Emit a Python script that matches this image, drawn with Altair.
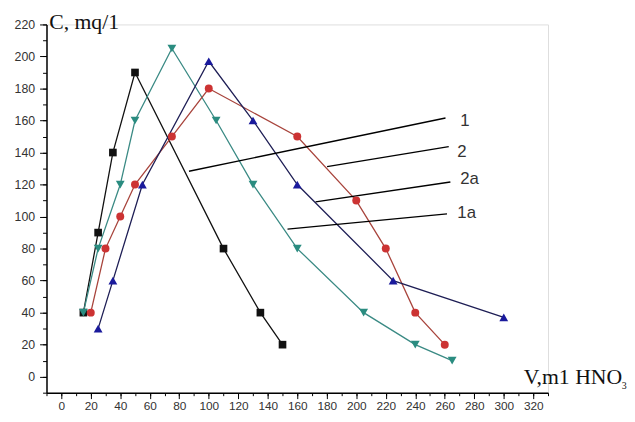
import altair as alt
import pandas as pd

# Curve 1 (black squares)
x1 = [15, 25, 35, 50, 110, 135, 150]
y1 = [40, 90, 140, 190, 80, 40, 20]
# Curve 1a (teal down-triangles)
x1a = [15, 25, 40, 50, 75, 105, 130, 160, 205, 240, 265]
y1a = [40, 80, 120, 160, 205, 160, 120, 80, 40, 20, 10]
# Curve 2 (red circles)
x2 = [20, 30, 40, 50, 75, 100, 160, 200, 220, 240, 260]
y2 = [40, 80, 100, 120, 150, 180, 150, 110, 80, 40, 20]
# Curve 2a (blue up-triangles)
x2a = [25, 35, 55, 100, 130, 160, 225, 300]
y2a = [30, 60, 120, 197, 160, 120, 60, 37]

series_names = ["1", "1a", "2", "2a"]
series_x = [x1, x1a, x2, x2a]
series_y = [y1, y1a, y2, y2a]
marker_colors = ["#111111", "#2a8c80", "#cc3333", "#1a1a9c"]
line_colors = ["#111111", "#3a8a84", "#a8443c", "#1e1e55"]
shapes = ["square", "triangle-down", "circle", "triangle-up"]
sizes = [60, 80, 65, 80]

# Leader lines (data coords) and labels
leader_names = ["1", "2", "2a", "1a"]
leader_x = [86.6, 180.2, 172.4, 153.4]
leader_y = [128.3, 131.2, 109.2, 92.2]
leader_x2 = [260.5, 262.7, 263.8, 261.5]
leader_y2 = [161.6, 143.7, 121.6, 101.7]
label_x = [270.5, 268.5, 270.5, 268.5]
label_y = [159.6, 140.0, 123.7, 102.1]

# tick positions
major_x = list(range(0, 321, 20))
minor_x = list(range(-10, 331, 10))
major_y = list(range(0, 221, 20))
minor_y = list(range(-10, 221, 10))

rows = []
for name, xs, ys, mc, lc, sh, sz in zip(series_names, series_x, series_y,
                                         marker_colors, line_colors, shapes, sizes):
    for i, (xv, yv) in enumerate(zip(xs, ys)):
        rows.append({"s": name, "x": xv, "y": yv, "mc": mc, "lc": lc,
                     "shape": sh, "size": sz, "o": i})
df = pd.DataFrame(rows)

lead = pd.DataFrame({"name": leader_names, "x": leader_x, "y": leader_y,
                     "x2": leader_x2, "y2": leader_y2,
                     "lx": label_x, "ly": label_y})

xscale = alt.Scale(domain=[-10, 330], nice=False, zero=False)
yscale = alt.Scale(domain=[-10, 220], nice=False, zero=False)

lab = dict(labelFont="Liberation Sans", labelColor="#333333",
           labelFlush=False, labelOverlap=False)
xaxis = alt.Axis(values=major_x, title=None, grid=False, orient="bottom",
                 domainColor="black", domainWidth=1.5, labelFontSize=12,
                 tickColor="black", tickWidth=1, tickSize=6, labelPadding=2, **lab)
yaxis = alt.Axis(values=major_y, title=None, grid=False, orient="left",
                 domainColor="black", domainWidth=1.5, labelFontSize=12.5,
                 tickColor="black", tickWidth=1, tickSize=7, labelPadding=5, **lab)
xminor = alt.Axis(values=minor_x, title=None, grid=False, orient="bottom",
                  domain=False, labels=False, tickColor="black", tickWidth=1, tickSize=3)
yminor = alt.Axis(values=minor_y, title=None, grid=False, orient="left",
                  domain=False, labels=False, tickColor="black", tickWidth=1, tickSize=4)

X = lambda f: alt.X(f, scale=xscale, axis=xaxis)
Y = lambda f: alt.Y(f, scale=yscale, axis=yaxis)

base = alt.Chart(df)
lines = base.mark_line(strokeWidth=1.3).encode(
    x=X("x:Q"), y=Y("y:Q"),
    detail="s:N",
    order="o:Q",
    color=alt.Color("lc:N", scale=None),
)
points = base.mark_point(filled=True, opacity=1).encode(
    x=X("x:Q"), y=Y("y:Q"),
    fill=alt.Fill("mc:N", scale=None),
    shape=alt.Shape("shape:N", scale=None),
    size=alt.Size("size:Q", scale=None),
)

leaders = alt.Chart(lead).mark_rule(color="black", strokeWidth=1.4).encode(
    x=X("x:Q"), y=Y("y:Q"), x2="x2:Q", y2="y2:Q")
labels = alt.Chart(lead).mark_text(align="left", baseline="middle",
                                   font="Liberation Sans", fontSize=17,
                                   color="#333333").encode(
    x=X("lx:Q"), y=Y("ly:Q"), text="name:N")

title_text = ["C, mq/1", "V,m1 HNO", "3"]
title_x = [-8.2, 313.5, 380.0]
title_y = [216.9, -4.3, -7.6]
title_size = [22, 22, 10]
titles = pd.DataFrame({"t": title_text, "x": title_x, "y": title_y, "fs": title_size})
title_marks = alt.Chart(titles).mark_text(align="left", baseline="alphabetic",
                                          font="Liberation Serif", color="#111111").encode(
    x=X("x:Q"), y=Y("y:Q"), text="t:N", size=alt.Size("fs:Q", scale=None))

main = alt.layer(lines, leaders, points, labels, title_marks)

minor_layer = alt.Chart(df).mark_point(opacity=0).encode(
    x=alt.X("x:Q", scale=xscale, axis=xminor),
    y=alt.Y("y:Q", scale=yscale, axis=yminor),
)

chart = alt.layer(minor_layer, main).resolve_scale(
    x="independent", y="independent"
).properties(
    width=508, height=373,
    autosize=alt.AutoSizeParams(type="none"),
    padding={"left": 39, "top": 14, "right": 80, "bottom": 25},
).configure_view(stroke=None).configure(background="white")

chart.save("out.html", embed_options={"renderer": "svg", "actions": False})
